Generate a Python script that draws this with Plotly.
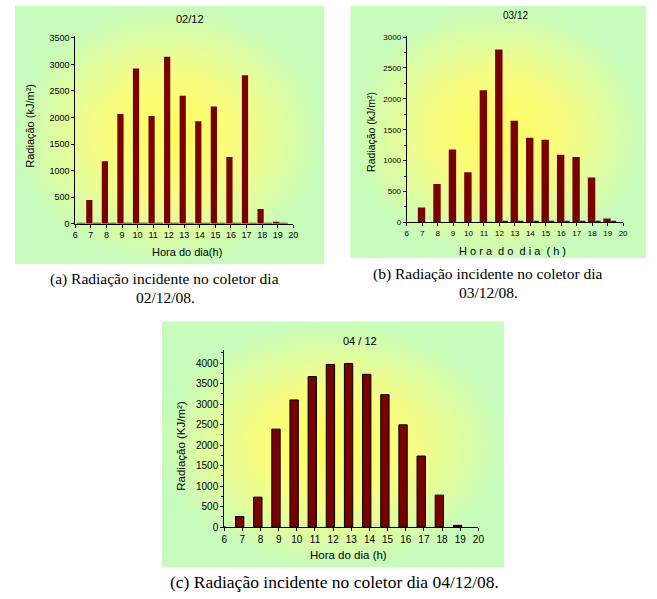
import plotly.graph_objects as go

W, H = 657, 599

# ---------------- data ----------------
horas = [6, 7, 8, 9, 10, 11, 12, 13, 14, 15, 16, 17, 18, 19]
tick_horas = [6, 7, 8, 9, 10, 11, 12, 13, 14, 15, 16, 17, 18, 19, 20]

rad_0212 = [0, 445, 1175, 2065, 2925, 2028, 3147, 2412, 1929, 2207, 1255, 2795, 278, 37]
rad_0212_b = [15, 15, 15, 15, 15, 15, 15, 15, 15, 15, 15, 15, 15, 15]

rad_0312 = [0, 239, 621, 1179, 812, 2140, 2798, 1646, 1370, 1338, 1094, 1057, 727, 64]
rad_0312_b = [0, 0, 0, 0, 0, 5, 25, 22, 22, 22, 22, 22, 20, 25]

rad_0412 = [0, 256, 729, 2389, 3102, 3671, 3968, 3992, 3727, 3230, 2493, 1732, 778, 40]

titulos = ["02/12", "03/12", "04 / 12"]
ytitulos = ["Radiação (kJ/m²)", "Radiação (kJ/m²)", "Radiação (KJ/m²)"]
xtitulos = ["Hora do dia(h)", "H o r a  d o  d i a  ( h )", "Hora do dia (h)"]
legendas = [
    "(a) Radiação incidente no coletor dia", "02/12/08.",
    "(b) Radiação incidente no coletor dia", "03/12/08.",
    "(c) Radiação incidente no coletor dia 04/12/08.",
]

BAR = "#7a0000"
SANS = "Liberation Sans, Arial, sans-serif"
SERIF = "Liberation Serif, Times New Roman, serif"


def px_x(x):
    return x / W


def px_y(y):
    return 1 - y / H


fig = go.Figure()

# ---------- gradient backgrounds (axes 1..3) ----------
bg_boxes = [(12, 326, 3, 265), (352, 652, 3, 259), (161, 508, 323, 573)]
grad = [[0, "#ffff5c"], [0.45, "#f8fd82"], [1, "#c8fcbc"]]
for i, (x0, x1, y0, y1) in enumerate(bg_boxes, start=1):
    fig.add_trace(go.Scatter(
        x=[0, 1, 1, 0, 0], y=[0, 0, 1, 1, 0], mode="lines", fill="toself",
        line=dict(width=0), fillgradient=dict(type="radial", colorscale=grad),
        hoverinfo="skip", showlegend=False,
        xaxis="x" if i == 1 else f"x{i}", yaxis="y" if i == 1 else f"y{i}"))
    sfx = "" if i == 1 else str(i)
    fig.update_layout(**{
        f"xaxis{sfx}": dict(domain=[px_x(x0), px_x(x1)], range=[0, 1], visible=False,
                            anchor=f"y{sfx}", fixedrange=True),
        f"yaxis{sfx}": dict(domain=[px_y(y1), px_y(y0)], range=[0, 1], visible=False,
                            anchor=f"x{sfx}", fixedrange=True),
    })

# ---------- bar charts (axes 4..6) ----------
plots = [
    dict(ax=4, xd=(73.3, 294.3), yd=(224, 33.3), yr=3540, ysz=9, xsz=9, minor=False,
         series=[(rad_0212, -0.30, 0.40, 0), (rad_0212_b, 0.10, 0.55, 0)]),
    dict(ax=5, xd=(409.3, 628.7), yd=(222.7, 33.3), yr=3020, ysz=8, xsz=8, minor=True,
         series=[(rad_0312, -0.28, 0.48, 0), (rad_0312_b, 0.20, 0.35, 0)]),
    dict(ax=6, xd=(224.3, 482.0), yd=(532, 352.3), yr=4320, ysz=10, xsz=10, minor=True,
         series=[(rad_0412, -0.38, 0.46, 1)]),
]

for p in plots:
    a = p["ax"]
    for vals, off, wd, lw in p["series"]:
        fig.add_trace(go.Bar(
            x=horas, y=vals, offset=off, width=wd,
            marker=dict(color=BAR, line=dict(color="black", width=lw)),
            showlegend=False, xaxis=f"x{a}", yaxis=f"y{a}"))
    ax_common = dict(showline=True, linecolor="black", linewidth=1, ticks="outside",
                     tickcolor="black", tickwidth=1, ticklen=3, showgrid=False,
                     zeroline=False, fixedrange=True)
    xa = dict(ax_common, domain=[px_x(p["xd"][0]), px_x(p["xd"][1])], range=[6, 20],
              tickmode="array", tickvals=tick_horas, anchor=f"y{a}",
              tickfont=dict(family=SANS, size=p["xsz"], color="black"))
    ya = dict(ax_common, domain=[px_y(p["yd"][0]), px_y(p["yd"][1])], range=[0, p["yr"]],
              dtick=500, tick0=0, anchor=f"x{a}",
              tickfont=dict(family=SANS, size=p["ysz"], color="black"))
    if p["minor"]:
        ya["minor"] = dict(dtick=250, ticks="outside", ticklen=2, tickcolor="black",
                           tickwidth=1, showgrid=False)
    fig.update_layout(**{f"xaxis{a}": xa, f"yaxis{a}": ya})

fig.update_layout(barmode="overlay")

# ---------- texts ----------
ann = []


def txt(s, x, y, size, font=SANS, angle=0):
    ann.append(dict(text=s, x=px_x(x), y=px_y(y), xref="paper", yref="paper",
                    showarrow=False, xanchor="center", yanchor="middle", textangle=angle,
                    font=dict(family=font, size=size, color="black")))


# titles
txt(titulos[0], 190, 16, 11)
txt(titulos[1], 520, 13, 10)
txt(titulos[2], 362, 343, 11)
# y axis titles
txt(ytitulos[0], 28, 125, 11, angle=-90)
txt(ytitulos[1], 373, 131, 10.5, angle=-90)
txt(ytitulos[2], 181, 450, 11.5, angle=-90)
# x axis titles
txt(xtitulos[0], 187, 253, 11)
txt(xtitulos[1], 517, 252, 11)
txt(xtitulos[2], 350, 560, 11.5)
# captions
txt(legendas[0], 164, 280, 15.5, font=SERIF)
txt(legendas[1], 165, 298.5, 15.5, font=SERIF)
txt(legendas[2], 492, 275, 15.5, font=SERIF)
txt(legendas[3], 492, 293.5, 15.5, font=SERIF)
txt(legendas[4], 336, 588, 17.5, font=SERIF)

fig.update_layout(
    width=W, height=H, margin=dict(l=0, r=0, t=0, b=0),
    paper_bgcolor="white", plot_bgcolor="rgba(0,0,0,0)",
    annotations=ann, showlegend=False,
)

fig.write_html("out.html", config={"displayModeBar": False},
               post_script="document.body.style.margin='0';document.body.style.padding='0';")
